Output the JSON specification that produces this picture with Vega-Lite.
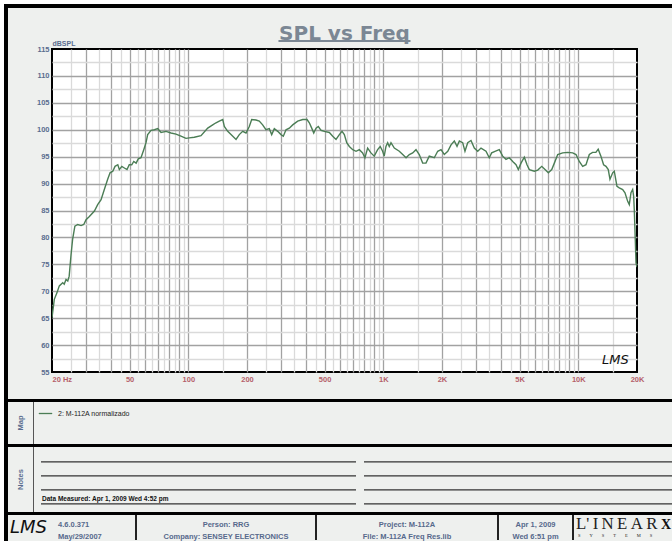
{
  "$schema": "https://vega.github.io/schema/vega-lite/v6.json",
  "background": "#eef0ee",
  "padding": 0,
  "config": {
    "view": {"stroke": null},
    "concat": {"spacing": 0},
    "font": "Liberation Sans"
  },
  "datasets": {
    "curve": [
      {"freq": 20, "spl": 65.1}, {"freq": 20.55, "spl": 68.5}, {"freq": 21.2, "spl": 69.7}, {"freq": 21.8, "spl": 71.0},
      {"freq": 22.7, "spl": 71.6}, {"freq": 23.1, "spl": 71.3}, {"freq": 23.6, "spl": 72.2}, {"freq": 24.1, "spl": 71.9},
      {"freq": 24.5, "spl": 72.8}, {"freq": 25.0, "spl": 76.5}, {"freq": 25.5, "spl": 79.6}, {"freq": 26.2, "spl": 82.1},
      {"freq": 27.1, "spl": 82.4}, {"freq": 28.2, "spl": 82.2}, {"freq": 29.1, "spl": 82.4}, {"freq": 29.9, "spl": 83.3},
      {"freq": 31.1, "spl": 83.9}, {"freq": 33.0, "spl": 84.9}, {"freq": 34.3, "spl": 86.1}, {"freq": 35.7, "spl": 87.0},
      {"freq": 37.1, "spl": 88.9}, {"freq": 38.6, "spl": 90.8}, {"freq": 39.7, "spl": 92.0}, {"freq": 41.0, "spl": 92.3},
      {"freq": 42.1, "spl": 93.2}, {"freq": 43.5, "spl": 93.5}, {"freq": 44.3, "spl": 92.6}, {"freq": 45.6, "spl": 93.2},
      {"freq": 47.0, "spl": 92.9}, {"freq": 48.5, "spl": 92.6}, {"freq": 49.8, "spl": 93.5}, {"freq": 51.3, "spl": 93.5},
      {"freq": 52.5, "spl": 94.1}, {"freq": 54.0, "spl": 93.8}, {"freq": 55.4, "spl": 94.6}, {"freq": 57.2, "spl": 94.8},
      {"freq": 59.1, "spl": 96.3}, {"freq": 60.7, "spl": 97.6}, {"freq": 61.9, "spl": 99.1}, {"freq": 64.4, "spl": 99.9},
      {"freq": 67.0, "spl": 100.0}, {"freq": 69.7, "spl": 100.2}, {"freq": 72.5, "spl": 99.5}, {"freq": 76.9, "spl": 99.7},
      {"freq": 81.5, "spl": 99.4}, {"freq": 86.5, "spl": 99.2}, {"freq": 91.7, "spl": 98.8}, {"freq": 97.3, "spl": 98.4},
      {"freq": 101.2, "spl": 98.5}, {"freq": 107.3, "spl": 98.6}, {"freq": 116.2, "spl": 98.9}, {"freq": 125.8, "spl": 100.3},
      {"freq": 133.4, "spl": 100.9}, {"freq": 138.7, "spl": 101.3}, {"freq": 144.2, "spl": 101.6}, {"freq": 150.2, "spl": 101.9},
      {"freq": 153, "spl": 100.6}, {"freq": 159.3, "spl": 99.7}, {"freq": 165.6, "spl": 99.1}, {"freq": 175.7, "spl": 98.2},
      {"freq": 182.6, "spl": 99.1}, {"freq": 190.1, "spl": 99.7}, {"freq": 197.7, "spl": 99.4}, {"freq": 205.5, "spl": 100.6},
      {"freq": 211.4, "spl": 101.9}, {"freq": 222.4, "spl": 101.8}, {"freq": 231.2, "spl": 101.6}, {"freq": 240.6, "spl": 100.9},
      {"freq": 250.2, "spl": 100.0}, {"freq": 260.2, "spl": 100.2}, {"freq": 267.7, "spl": 99.1}, {"freq": 276.1, "spl": 100.2},
      {"freq": 287.4, "spl": 99.7}, {"freq": 298.9, "spl": 99.1}, {"freq": 307.1, "spl": 98.8}, {"freq": 317, "spl": 100.0},
      {"freq": 329.6, "spl": 100.3}, {"freq": 343.1, "spl": 100.9}, {"freq": 363.9, "spl": 101.6}, {"freq": 386.2, "spl": 101.9},
      {"freq": 406.4, "spl": 101.9}, {"freq": 417.5, "spl": 101.3}, {"freq": 429.4, "spl": 100.3}, {"freq": 439.8, "spl": 99.4},
      {"freq": 451.9, "spl": 100.3}, {"freq": 464.3, "spl": 100.6}, {"freq": 479.4, "spl": 99.9}, {"freq": 498.4, "spl": 99.7},
      {"freq": 528.7, "spl": 99.5}, {"freq": 550.4, "spl": 98.8}, {"freq": 572.2, "spl": 98.2}, {"freq": 595, "spl": 99.1},
      {"freq": 614.3, "spl": 99.7}, {"freq": 631.2, "spl": 99.1}, {"freq": 649.4, "spl": 97.6}, {"freq": 669.6, "spl": 96.9},
      {"freq": 697.1, "spl": 96.3}, {"freq": 724.8, "spl": 96.0}, {"freq": 753.6, "spl": 96.3}, {"freq": 783.2, "spl": 95.7},
      {"freq": 805, "spl": 94.8}, {"freq": 831.1, "spl": 96.6}, {"freq": 864.1, "spl": 95.7}, {"freq": 898.4, "spl": 95.1},
      {"freq": 935.3, "spl": 96.3}, {"freq": 964.4, "spl": 96.9}, {"freq": 992.1, "spl": 96.0}, {"freq": 1011, "spl": 95.1},
      {"freq": 1032, "spl": 96.9}, {"freq": 1053, "spl": 97.6}, {"freq": 1073, "spl": 96.9}, {"freq": 1095, "spl": 97.6},
      {"freq": 1139, "spl": 96.6}, {"freq": 1208, "spl": 96.0}, {"freq": 1258, "spl": 95.4}, {"freq": 1308, "spl": 94.8},
      {"freq": 1360, "spl": 95.4}, {"freq": 1415, "spl": 95.7}, {"freq": 1471, "spl": 96.3}, {"freq": 1529, "spl": 95.4},
      {"freq": 1592, "spl": 93.8}, {"freq": 1655, "spl": 93.8}, {"freq": 1721, "spl": 95.1}, {"freq": 1826, "spl": 94.8},
      {"freq": 1901, "spl": 96.0}, {"freq": 1977, "spl": 96.3}, {"freq": 2055, "spl": 95.4}, {"freq": 2141, "spl": 96.0},
      {"freq": 2225, "spl": 97.2}, {"freq": 2313, "spl": 97.9}, {"freq": 2388, "spl": 96.9}, {"freq": 2455, "spl": 97.9},
      {"freq": 2553, "spl": 97.6}, {"freq": 2623, "spl": 96.0}, {"freq": 2709, "spl": 97.6}, {"freq": 2817, "spl": 98.0},
      {"freq": 2929, "spl": 96.6}, {"freq": 3049, "spl": 96.0}, {"freq": 3170, "spl": 96.6}, {"freq": 3362, "spl": 96.0},
      {"freq": 3495, "spl": 94.8}, {"freq": 3595, "spl": 95.7}, {"freq": 3739, "spl": 96.0}, {"freq": 3933, "spl": 96.3},
      {"freq": 4095, "spl": 95.1}, {"freq": 4258, "spl": 94.5}, {"freq": 4428, "spl": 94.8}, {"freq": 4610, "spl": 94.1},
      {"freq": 4793, "spl": 93.5}, {"freq": 4925, "spl": 92.6}, {"freq": 5084, "spl": 93.8}, {"freq": 5287, "spl": 94.9},
      {"freq": 5458, "spl": 93.5}, {"freq": 5609, "spl": 92.6}, {"freq": 5951, "spl": 92.3}, {"freq": 6196, "spl": 92.5},
      {"freq": 6495, "spl": 93.2}, {"freq": 6752, "spl": 92.6}, {"freq": 7020, "spl": 92.0}, {"freq": 7309, "spl": 92.6},
      {"freq": 7536, "spl": 93.8}, {"freq": 7842, "spl": 95.4}, {"freq": 8318, "spl": 95.7}, {"freq": 8825, "spl": 95.8},
      {"freq": 9362, "spl": 95.7}, {"freq": 9733, "spl": 95.4}, {"freq": 10118, "spl": 94.1}, {"freq": 10531, "spl": 93.2},
      {"freq": 10952, "spl": 93.5}, {"freq": 11388, "spl": 95.4}, {"freq": 11835, "spl": 95.8}, {"freq": 12308, "spl": 95.8},
      {"freq": 12648, "spl": 96.4}, {"freq": 13059, "spl": 95.1}, {"freq": 13482, "spl": 93.5}, {"freq": 13865, "spl": 93.2},
      {"freq": 14247, "spl": 92.6}, {"freq": 14536, "spl": 90.8}, {"freq": 15007, "spl": 92.0}, {"freq": 15293, "spl": 92.3},
      {"freq": 15787, "spl": 89.5}, {"freq": 16223, "spl": 89.2}, {"freq": 16890, "spl": 88.9}, {"freq": 17355, "spl": 88.3},
      {"freq": 17917, "spl": 86.7}, {"freq": 18258, "spl": 86.1}, {"freq": 18628, "spl": 88.3}, {"freq": 19004, "spl": 88.9},
      {"freq": 19230, "spl": 87.6}, {"freq": 19368, "spl": 85.2}, {"freq": 19597, "spl": 79.6}, {"freq": 19763, "spl": 75.3},
      {"freq": 20000, "spl": 74.5}
    ],
    "annot": [{"freq": 15500, "spl": 57.3, "label": "LMS"}],
    "noteLines": [{"line": 1}, {"line": 2}, {"line": 3}, {"line": 4}]
  },
  "spacing": 0,
  "resolve": {"scale": {"color": "independent"}, "legend": {"color": "independent"}},
  "hconcat": [
    {"width": 4, "height": 541, "data": {"values": []}, "mark": "point", "view": {"fill": "#ffffff", "stroke": null}},
    {
      "spacing": 0,
      "resolve": {"scale": {"color": "independent"}, "legend": {"color": "independent"}},
      "vconcat": [
        {"width": 668, "height": 4, "data": {"values": []}, "mark": "point", "view": {"fill": "#ffffff", "stroke": null}},
        {
          "spacing": 0,
          "resolve": {"scale": {"color": "independent"}, "legend": {"color": "independent"}},
          "hconcat": [
            {"width": 4, "height": 537, "data": {"values": []}, "mark": "point", "view": {"fill": "#000000", "stroke": null}},
            {
              "spacing": 0,
              "resolve": {"scale": {"color": "independent"}, "legend": {"color": "independent"}},
              "vconcat": [
                {"width": 664, "height": 4, "data": {"values": []}, "mark": "point", "view": {"fill": "#000000", "stroke": null}},
                {"width": 664, "height": 13.8, "data": {"values": []}, "mark": "point"},
                {
                  "spacing": 0,
                  "hconcat": [
                    {"width": 26.5, "height": 323, "data": {"values": []}, "mark": "point"},
                    {
                      "width": 585,
                      "height": 323,
                      "title": {"text": "SPL vs Freq", "anchor": "middle", "frame": "group", "orient": "top", "baseline": "alphabetic", "offset": 11.2, "dy": 32, "font": "DejaVu Sans", "fontSize": 20, "fontWeight": "bold", "color": "#7b8794"},
                      "view": {"fill": "#ffffff", "stroke": "#000000", "strokeWidth": 2},
                      "layer": [
                        {
                          "data": {"name": "curve"},
                          "mark": {"type": "line", "strokeWidth": 1.4, "color": "#4b7d55", "clip": true},
                          "encoding": {
                            "x": {
                              "field": "freq", "type": "quantitative",
                              "scale": {"type": "log", "domain": [20, 20000], "nice": false},
                              "axis": {
                                "values": [20,25,30,35,40,45,50,55,60,65,70,75,80,85,90,95,100,150,200,250,300,350,400,450,500,550,600,650,700,750,800,850,900,950,1000,1500,2000,2500,3000,3500,4000,4500,5000,5500,6000,6500,7000,7500,8000,8500,9000,9500,10000,15000,20000],
                                "tickCount": 200,
                                "grid": true,
                                "gridColor": {"condition": {"test": "(datum.value / pow(10, floor(log(datum.value) / LN10 + 1e-9))) % 1 == 0", "value": "#a2a2a2"}, "value": "#dadada"},
                                "gridOpacity": {"condition": {"test": "datum.value == 20 || datum.value == 20000", "value": 0}, "value": 1},
                                "gridWidth": 1.3,
                                "ticks": false,
                                "domain": false,
                                "labelExpr": "indexof([20,50,100,200,500,1000,2000,5000,10000,20000], datum.value) >= 0 ? (datum.value == 20 ? '20  Hz' : (datum.value >= 1000 ? (datum.value / 1000) + 'K' : '' + datum.value)) : ''",
                                "labelOverlap": false,
                                "labelFlush": false,
                                "labelAlign": {"condition": {"test": "datum.value == 20", "value": "left"}, "value": "center"},
                                "labelPadding": 3,
                                "labelFont": "Liberation Sans",
                                "labelFontSize": 7.5,
                                "labelFontWeight": "bold",
                                "labelColor": "#b5616a",
                                "title": null
                              }
                            },
                            "y": {
                              "field": "spl", "type": "quantitative",
                              "scale": {"domain": [55, 115], "nice": false, "zero": false},
                              "axis": {
                                "values": [55,57.5,60,62.5,65,67.5,70,72.5,75,77.5,80,82.5,85,87.5,90,92.5,95,97.5,100,102.5,105,107.5,110,112.5,115],
                                "tickCount": 200,
                                "grid": true,
                                "gridColor": {"condition": {"test": "datum.value % 5 == 0", "value": "#a2a2a2"}, "value": "#dadada"},
                                "gridOpacity": {"condition": {"test": "datum.value == 55 || datum.value == 115", "value": 0}, "value": 1},
                                "gridWidth": 1.3,
                                "ticks": false,
                                "domain": false,
                                "labelExpr": "datum.value % 5 == 0 ? format(datum.value, 'd') : ''",
                                "labelOverlap": false,
                                "labelPadding": 3,
                                "labelFont": "Liberation Sans",
                                "labelFontSize": 7.5,
                                "labelFontWeight": "bold",
                                "labelColor": "#5a6d8e",
                                "title": "dBSPL",
                                "titleAngle": 0,
                                "titleX": 0,
                                "titleY": -4,
                                "titleAlign": "left",
                                "titleBaseline": "alphabetic",
                                "titleFont": "Liberation Sans",
                                "titleFontSize": 7,
                                "titleFontWeight": "bold",
                                "titleColor": "#5a6d8e"
                              }
                            }
                          }
                        },
                        {
                          "data": {"values": [{"from": 290, "to": 1379, "level": 116.5}]},
                          "mark": {"type": "rule", "color": "#7b8794", "strokeWidth": 2, "clip": false},
                          "encoding": {
                            "x": {"field": "from", "type": "quantitative"},
                            "x2": {"field": "to"},
                            "y": {"field": "level", "type": "quantitative"}
                          }
                        },
                        {
                          "data": {"name": "annot"},
                          "mark": {"type": "text", "font": "DejaVu Sans", "fontStyle": "italic", "fontSize": 13, "color": "#111111"},
                          "encoding": {
                            "x": {"field": "freq", "type": "quantitative"},
                            "y": {"field": "spl", "type": "quantitative"},
                            "text": {"field": "label"}
                          }
                        }
                      ]
                    },
                    {"width": 29, "height": 323, "data": {"values": []}, "mark": "point"}
                  ]
                },
                {"width": 664, "height": 14.5, "data": {"values": []}, "mark": "point"},
                {"width": 664, "height": 3, "data": {"values": []}, "mark": "point", "view": {"fill": "#000000", "stroke": null}},
                {
                  "spacing": 0,
                  "resolve": {"scale": {"color": "independent"}, "legend": {"color": "independent"}},
                  "hconcat": [
                    {
                      "width": 25, "height": 42,
                      "data": {"values": [{"t": "Map"}]},
                      "mark": {"type": "text", "angle": 270, "fontSize": 7.5, "fontWeight": "bold", "color": "#5a6d8e", "font": "Liberation Sans"},
                      "encoding": {"text": {"field": "t"}}
                    },
                    {"width": 1, "height": 42, "data": {"values": []}, "mark": "point", "view": {"fill": "#555555", "stroke": null}},
                    {
                      "width": 638, "height": 42,
                      "data": {"values": []},
                      "mark": {"type": "line"},
                      "encoding": {
                        "color": {
                          "datum": "2: M-112A normalizado",
                          "type": "nominal",
                          "scale": {"range": ["#4b7d55"]},
                          "legend": {
                            "orient": "top-left",
                            "offset": 4,
                            "title": null,
                            "padding": 0,
                            "symbolType": "stroke",
                            "symbolSize": 180,
                            "symbolStrokeWidth": 1.3,
                            "labelFont": "Liberation Sans",
                            "labelFontSize": 7,
                            "labelColor": "#222222",
                            "labelOffset": 5
                          }
                        }
                      }
                    }
                  ]
                },
                {"width": 664, "height": 3, "data": {"values": []}, "mark": "point", "view": {"fill": "#000000", "stroke": null}},
                {
                  "spacing": 0,
                  "hconcat": [
                    {
                      "width": 25, "height": 65,
                      "data": {"values": [{"t": "Notes"}]},
                      "mark": {"type": "text", "angle": 270, "fontSize": 7.5, "fontWeight": "bold", "color": "#5a6d8e", "font": "Liberation Sans"},
                      "encoding": {"text": {"field": "t"}}
                    },
                    {"width": 1, "height": 65, "data": {"values": []}, "mark": "point", "view": {"fill": "#555555", "stroke": null}},
                    {"width": 6, "height": 65, "data": {"values": []}, "mark": "point"},
                    {
                      "width": 315, "height": 65,
                      "layer": [
                        {
                          "data": {"name": "noteLines"},
                          "mark": {"type": "rule", "color": "#333333", "strokeWidth": 1.2},
                          "encoding": {"y": {"field": "line", "type": "ordinal", "scale": {"type": "point", "padding": 0.82, "align": 0.65}, "axis": null}}
                        },
                        {
                          "data": {"values": [{"line": 4, "t": "Data Measured: Apr  1, 2009  Wed  4:52 pm"}]},
                          "mark": {"type": "text", "align": "left", "baseline": "bottom", "dx": -156.5, "dy": -1.5, "fontSize": 6.5, "fontWeight": "bold", "color": "#111111", "font": "Liberation Sans"},
                          "encoding": {
                            "y": {"field": "line", "type": "ordinal"},
                            "text": {"field": "t"}
                          }
                        }
                      ]
                    },
                    {"width": 6, "height": 65, "data": {"values": []}, "mark": "point"},
                    {
                      "width": 311, "height": 65,
                      "data": {"name": "noteLines"},
                      "mark": {"type": "rule", "color": "#333333", "strokeWidth": 1.2},
                      "encoding": {"y": {"field": "line", "type": "ordinal", "scale": {"type": "point", "padding": 0.82, "align": 0.65}, "axis": null}}
                    }
                  ]
                },
                {"width": 664, "height": 3, "data": {"values": []}, "mark": "point", "view": {"fill": "#000000", "stroke": null}},
                {
                  "spacing": 0,
                  "hconcat": [
                    {
                      "width": 45, "height": 25,
                      "data": {"values": [{"t": "LMS"}]},
                      "mark": {"type": "text", "font": "DejaVu Sans", "fontStyle": "italic", "fontSize": 18, "color": "#111111", "dx": -2},
                      "encoding": {"text": {"field": "t"}}
                    },
                    {
                      "width": 82, "height": 25,
                      "data": {"values": [{"t": "4.6.0.371\nMay/29/2007"}]},
                      "mark": {"type": "text", "align": "left", "dx": -36, "dy": -2.5, "lineBreak": "\n", "lineHeight": 11.5, "fontSize": 7.5, "fontWeight": "bold", "color": "#56698c", "font": "Liberation Sans"},
                      "encoding": {"text": {"field": "t"}}
                    },
                    {"width": 2, "height": 25, "data": {"values": []}, "mark": "point", "view": {"fill": "#222222", "stroke": null}},
                    {
                      "width": 178, "height": 25,
                      "data": {"values": [{"t": "Person: RRG\nCompany: SENSEY ELECTRONICS"}]},
                      "mark": {"type": "text", "dy": -2.5, "lineBreak": "\n", "lineHeight": 11.5, "fontSize": 7.5, "fontWeight": "bold", "color": "#56698c", "font": "Liberation Sans"},
                      "encoding": {"text": {"field": "t"}}
                    },
                    {"width": 2, "height": 25, "data": {"values": []}, "mark": "point", "view": {"fill": "#222222", "stroke": null}},
                    {
                      "width": 180, "height": 25,
                      "data": {"values": [{"t": "Project: M-112A\nFile: M-112A Freq Res.lib"}]},
                      "mark": {"type": "text", "dy": -2.5, "lineBreak": "\n", "lineHeight": 11.5, "fontSize": 7.5, "fontWeight": "bold", "color": "#56698c", "font": "Liberation Sans"},
                      "encoding": {"text": {"field": "t"}}
                    },
                    {"width": 2, "height": 25, "data": {"values": []}, "mark": "point", "view": {"fill": "#222222", "stroke": null}},
                    {
                      "width": 73, "height": 25,
                      "data": {"values": [{"t": "Apr  1, 2009\nWed  6:51 pm"}]},
                      "mark": {"type": "text", "dy": -2.5, "lineBreak": "\n", "lineHeight": 11.5, "fontSize": 7.5, "fontWeight": "bold", "color": "#56698c", "font": "Liberation Sans"},
                      "encoding": {"text": {"field": "t"}}
                    },
                    {"width": 2, "height": 25, "data": {"values": []}, "mark": "point", "view": {"fill": "#222222", "stroke": null}},
                    {
                      "width": 98, "height": 25,
                      "layer": [
                        {
                          "data": {"values": [{"t": "L'\u2009I\u2009N\u2009E\u2009A\u2009R"}]},
                          "mark": {"type": "text", "align": "left", "baseline": "alphabetic", "dx": -47, "dy": 1, "font": "Liberation Serif", "fontSize": 16.8, "color": "#222222"},
                          "encoding": {"text": {"field": "t"}}
                        },
                        {
                          "data": {"values": [{"t": "X"}]},
                          "mark": {"type": "text", "align": "left", "baseline": "alphabetic", "dx": 38, "dy": 1, "font": "Liberation Serif", "fontWeight": "bold", "fontSize": 14, "color": "#111111"},
                          "encoding": {"text": {"field": "t"}}
                        },
                        {
                          "data": {"values": [{"t": "S\u2003\u2003Y\u2003\u2003S\u2003\u2003T\u2003\u2003E\u2003\u2003M\u2003\u2003S"}]},
                          "mark": {"type": "text", "align": "left", "baseline": "alphabetic", "dx": -45, "dy": 9, "font": "Liberation Serif", "fontSize": 4.5, "color": "#222222"},
                          "encoding": {"text": {"field": "t"}}
                        }
                      ]
                    }
                  ]
                }
              ]
            }
          ]
        }
      ]
    }
  ]
}
